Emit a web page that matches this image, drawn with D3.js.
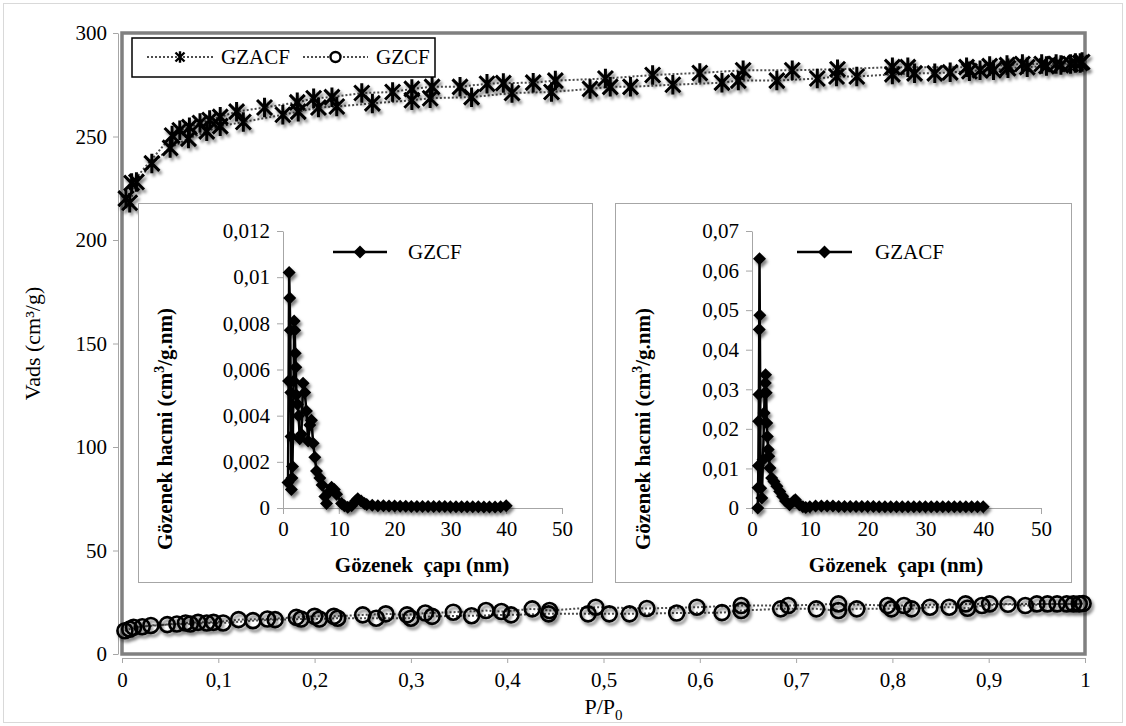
<!DOCTYPE html>
<html>
<head>
<meta charset="utf-8">
<script src="https://cdn.jsdelivr.net/npm/d3@7"></script>
<style>
  body { margin: 0; background: #fff; }
  text { font-family: "Liberation Serif", "Times New Roman", serif; fill: #000; }
</style>
</head>
<body>
<svg id="chart" width="1126" height="726"></svg>
<script>
// Isotherme principale : P/P0 -> Vads (cm3/g)
const xTicks = [0, 0.1, 0.2, 0.3, 0.4, 0.5, 0.6, 0.7, 0.8, 0.9, 1];
const xTickLabels = ["0", "0,1", "0,2", "0,3", "0,4", "0,5", "0,6", "0,7", "0,8", "0,9", "1"];
const yTicks = [0, 50, 100, 150, 200, 250, 300];
const yTickLabels = ["0", "50", "100", "150", "200", "250", "300"];

// GZACF : adsorption (branche basse) puis désorption (branche haute)
const gzacfAds = [
  [0.004, 220], [0.008, 218], [0.015, 228], [0.031, 237], [0.05, 244.5], [0.069, 249],
  [0.088, 252.5], [0.102, 255], [0.126, 257], [0.167, 260.5], [0.183, 262], [0.204, 264],
  [0.223, 264.5], [0.26, 266], [0.301, 267.5], [0.32, 268.5], [0.363, 269], [0.405, 271],
  [0.446, 271.5], [0.486, 273], [0.507, 274], [0.528, 274], [0.572, 275], [0.623, 276],
  [0.64, 277], [0.68, 277], [0.722, 278], [0.742, 279], [0.763, 279], [0.8, 280],
  [0.823, 280.5], [0.844, 280.5], [0.86, 281], [0.88, 281.5], [0.891, 282], [0.905, 282],
  [0.92, 283], [0.94, 283.5], [0.96, 284], [0.975, 284.5], [0.985, 285], [0.995, 285.5]
];
const gzacfDes = [
  [0.997, 286], [0.99, 285.5], [0.97, 285], [0.955, 285], [0.935, 285], [0.919, 284.5],
  [0.901, 284], [0.877, 283.5], [0.816, 283.5], [0.8, 283.5], [0.743, 282.5], [0.696, 282],
  [0.645, 282], [0.6, 280.7], [0.551, 279.7], [0.502, 278], [0.45, 277], [0.427, 276],
  [0.396, 275.8], [0.379, 275.5], [0.351, 274], [0.322, 274], [0.301, 273], [0.281, 271.5],
  [0.249, 271], [0.218, 269], [0.199, 268.5], [0.182, 266.5], [0.148, 264], [0.119, 262],
  [0.102, 259.5], [0.091, 258], [0.081, 256.5], [0.07, 254.5], [0.06, 253], [0.052, 250.5],
  [0.01, 227.5]
];

// GZCF : adsorption puis désorption
const gzcfAds = [
  [0.003, 11.2], [0.008, 12], [0.021, 13.2], [0.03, 13.8], [0.047, 14.2], [0.057, 14.5],
  [0.071, 14.5], [0.088, 15], [0.105, 15], [0.136, 16.1], [0.159, 16.6], [0.186, 16.9],
  [0.205, 16.9], [0.224, 17.3], [0.264, 17.3], [0.3, 17.3], [0.322, 18.2], [0.363, 18.5],
  [0.404, 18.9], [0.443, 19.4], [0.484, 19.4], [0.506, 19.4], [0.527, 19.4], [0.576, 19.8],
  [0.623, 20], [0.643, 21], [0.684, 21.8], [0.721, 21.8], [0.744, 21], [0.763, 21.8],
  [0.799, 21.8], [0.82, 21.8], [0.839, 22.6], [0.859, 22.6], [0.878, 22.1], [0.893, 23.4],
  [0.92, 24], [0.938, 23.4], [0.961, 24.2], [0.981, 24.2], [0.998, 24.4]
];
const gzcfDes = [
  [0.994, 24.2], [0.988, 24.2], [0.971, 24.2], [0.95, 24.2], [0.901, 24.2], [0.876, 24.2],
  [0.812, 23.4], [0.795, 23.4], [0.744, 24.2], [0.692, 23.4], [0.643, 23.4], [0.597, 22.6],
  [0.545, 22], [0.492, 22.6], [0.444, 21], [0.426, 21.8], [0.394, 20.5], [0.378, 21],
  [0.344, 20.2], [0.315, 19.8], [0.296, 18.9], [0.274, 19.4], [0.25, 18.9], [0.22, 18.2],
  [0.2, 18.2], [0.181, 17.7], [0.151, 16.9], [0.121, 16.6], [0.095, 15.3], [0.079, 15.3],
  [0.066, 15], [0.012, 12.9]
];

// Distribution des pores (encarts) : diamètre (nm) -> volume (cm3/g.nm)
const psdXTicks = [0, 10, 20, 30, 40, 50];
const psdXTickLabels = ["0", "10", "20", "30", "40", "50"];
const gzcfPsdYTicks = [0, 0.002, 0.004, 0.006, 0.008, 0.01, 0.012];
const gzcfPsdYTickLabels = ["0", "0,002", "0,004", "0,006", "0,008", "0,01", "0,012"];
const gzacfPsdYTicks = [0, 0.01, 0.02, 0.03, 0.04, 0.05, 0.06, 0.07];
const gzacfPsdYTickLabels = ["0", "0,01", "0,02", "0,03", "0,04", "0,05", "0,06", "0,07"];

const gzcfPsd = [
  [0.9, 0.0011], [1.0, 0.0055], [1.1, 0.0102], [1.2, 0.0091], [1.3, 0.0077], [1.4, 0.005],
  [1.45, 0.0031], [1.5, 0.0008], [1.6, 0.0013], [1.7, 0.0018], [1.9, 0.0055], [2.0, 0.0081],
  [2.1, 0.0077], [2.2, 0.0067], [2.3, 0.0061], [2.4, 0.0049], [2.6, 0.0045], [2.8, 0.004],
  [3.0, 0.003], [3.3, 0.0032], [3.6, 0.0054], [3.9, 0.005], [4.2, 0.0042], [4.5, 0.0029],
  [4.8, 0.0036], [5.1, 0.0038], [5.4, 0.0028], [5.7, 0.0022], [6.0, 0.0016], [6.6, 0.0013],
  [7.0, 0.001], [7.5, 0.0005], [7.8, 0.0002], [8.3, 0.0007], [8.7, 0.0009], [9.2, 0.0008],
  [9.6, 0.0006], [10.5, 0.0002], [11.0, 0.0001], [11.6, 0.00003], [12.3, 0.0001], [13.0, 0.0003],
  [13.4, 0.0004], [14.0, 0.0003], [14.6, 0.0002], [15, 0.00015], [16, 0.00012], [17, 0.0001],
  [18, 0.0001], [19, 0.00009], [20, 0.00009], [21, 0.00008], [22, 0.00008], [23, 0.00007],
  [24, 0.00007], [25, 0.00007], [26, 0.00006], [27, 0.00006], [28, 0.00006], [29, 0.00006],
  [30, 0.00005], [31, 0.00005], [32, 0.00005], [33, 0.00005], [34, 0.00005], [35, 0.00005],
  [36, 0.00004], [37, 0.00004], [38, 0.00004], [39, 0.00005], [40, 0.0001]
];
const gzacfPsd = [
  [1.0, 0.0], [1.05, 0.0051], [1.1, 0.0107], [1.15, 0.0219], [1.2, 0.0287], [1.25, 0.0451],
  [1.3, 0.063], [1.35, 0.0487], [1.5, 0.005], [1.7, 0.0025], [1.9, 0.0122], [2.1, 0.024],
  [2.2, 0.0291], [2.3, 0.0316], [2.35, 0.0337], [2.45, 0.0291], [2.55, 0.0215], [2.65, 0.0181],
  [2.8, 0.0148], [2.9, 0.0131], [3.1, 0.0101], [3.4, 0.0076], [3.8, 0.0067], [4.3, 0.0055],
  [4.8, 0.0042], [5.3, 0.003], [5.8, 0.0018], [6.5, 0.0008], [7.2, 0.0018], [7.5, 0.0021],
  [8.2, 0.0008], [8.8, 0.0003], [9.3, 0.0001], [10, 0.0003], [11, 0.0005], [12, 0.0005],
  [13, 0.0005], [14, 0.0005], [15, 0.0004], [16, 0.0004], [17, 0.0004], [18, 0.0004],
  [19, 0.0004], [20, 0.0004], [21, 0.0004], [22, 0.0003], [23, 0.0003], [24, 0.0003],
  [25, 0.0003], [26, 0.0003], [27, 0.0003], [28, 0.0003], [29, 0.0003], [30, 0.0003],
  [31, 0.0003], [32, 0.0003], [33, 0.0003], [34, 0.0003], [35, 0.0003], [36, 0.0003],
  [37, 0.0003], [38, 0.0003], [39, 0.0003], [40, 0.0003]
];

const svg = d3.select("#chart");

// ombre portée des marqueurs (style Excel)
const defs = svg.append("defs");
defs.append("filter").attr("id", "shadow")
  .attr("x", "-50%").attr("y", "-50%").attr("width", "200%").attr("height", "200%")
  .append("feDropShadow")
  .attr("dx", 2).attr("dy", 3).attr("stdDeviation", 1.8)
  .attr("flood-color", "#000").attr("flood-opacity", 0.5);

// cadre extérieur
svg.append("rect")
  .attr("x", 3.5).attr("y", 3.5).attr("width", 1119).attr("height", 719)
  .attr("fill", "#fff").attr("stroke", "#d9d9d9");

const x = d3.scaleLinear().domain([0, 1]).range([122, 1085]);
const y = d3.scaleLinear().domain([0, 300]).range([654, 33]);

function starPath(r) {
  return `M${-r},${-r}L${r},${r}M${-r},${r}L${r},${-r}M0,${-r * 1.3}L0,${r * 1.3}`;
}
function diamondPath(r) {
  return `M0,${-r}L${r},0L0,${r}L${-r},0Z`;
}

function styleAxis(g) {
  g.attr("font-family", null).attr("font-size", null);
  g.select(".domain").attr("stroke", "#a6a6a6");
  g.selectAll(".tick line").attr("stroke", "#a6a6a6");
  g.selectAll(".tick text").style("font-size", "21px")
    .style("font-family", '"Liberation Serif", serif');
}

// axes principaux
svg.append("g")
  .attr("transform", `translate(${x(0) - 4},0)`)
  .call(d3.axisLeft(y).tickValues(yTicks).tickFormat((d, i) => yTickLabels[i])
    .tickSize(5).tickPadding(6).tickSizeOuter(0))
  .call(styleAxis);

svg.append("g")
  .attr("transform", `translate(0,${y(0) + 4})`)
  .call(d3.axisBottom(x).tickValues(xTicks).tickFormat((d, i) => xTickLabels[i])
    .tickSize(5).tickPadding(9).tickSizeOuter(0))
  .call(styleAxis);

// cadre de la zone de tracé
svg.append("rect")
  .attr("x", x(0)).attr("y", y(300))
  .attr("width", x(1) - x(0)).attr("height", y(0) - y(300))
  .attr("fill", "none").attr("stroke", "#808080").attr("stroke-width", 3.5);

// titres des axes
svg.append("text")
  .attr("transform", `translate(40,${(y(0) + y(300)) / 2}) rotate(-90)`)
  .attr("text-anchor", "middle").style("font-size", "22px")
  .text("Vads (cm³/g)");

const xTitle = svg.append("text")
  .attr("x", (x(0) + x(1)) / 2).attr("y", 714)
  .attr("text-anchor", "middle").style("font-size", "22px");
xTitle.append("tspan").text("P/P");
xTitle.append("tspan").attr("dy", 6).style("font-size", "15px").text("0");

// courbes principales
const line = d3.line().x(d => x(d[0])).y(d => y(d[1]));

function drawSeries(data, kind) {
  svg.append("path")
    .datum(data)
    .attr("d", line)
    .attr("fill", "none")
    .attr("stroke", "#4d4d4d")
    .attr("stroke-width", 2)
    .attr("stroke-dasharray", "2,2");
  const marks = svg.append("g").attr("filter", "url(#shadow)");
  if (kind === "star") {
    marks.selectAll("path").data(data).enter().append("path")
      .attr("transform", d => `translate(${x(d[0])},${y(d[1])})`)
      .attr("d", starPath(7.5))
      .attr("fill", "none").attr("stroke", "#000").attr("stroke-width", 3);
  } else {
    marks.selectAll("circle").data(data).enter().append("circle")
      .attr("cx", d => x(d[0])).attr("cy", d => y(d[1])).attr("r", 7.5)
      .attr("fill", "none").attr("stroke", "#000").attr("stroke-width", 2.6);
  }
}
drawSeries(gzcfAds.concat(gzcfDes), "circle");
drawSeries(gzacfAds.concat(gzacfDes), "star");

// légende principale
const leg = svg.append("g");
leg.append("rect")
  .attr("x", 132).attr("y", 38).attr("width", 303).attr("height", 39)
  .attr("fill", "#fff").attr("stroke", "#000").attr("stroke-width", 1.5);
[
  { x0: 147, x1: 213, label: "GZACF", kind: "star" },
  { x0: 303, x1: 368, label: "GZCF", kind: "circle" }
].forEach(item => {
  leg.append("line")
    .attr("x1", item.x0).attr("x2", item.x1).attr("y1", 57).attr("y2", 57)
    .attr("stroke", "#4d4d4d").attr("stroke-width", 2).attr("stroke-dasharray", "2,2");
  const cx = (item.x0 + item.x1) / 2;
  if (item.kind === "star") {
    leg.append("path").attr("transform", `translate(${cx},57)`)
      .attr("d", starPath(4.5)).attr("stroke", "#000").attr("stroke-width", 2.4);
  } else {
    leg.append("circle").attr("cx", cx).attr("cy", 57).attr("r", 5)
      .attr("fill", "#fff").attr("stroke", "#000").attr("stroke-width", 2.4);
  }
  leg.append("text").attr("x", item.x1 + 8).attr("y", 64)
    .style("font-size", "21px").text(item.label);
});

// encarts : distribution de taille de pores
function drawInset(opt) {
  const g = svg.append("g");
  g.append("rect")
    .attr("x", opt.box[0] + 0.5).attr("y", opt.box[1] + 0.5)
    .attr("width", opt.box[2]).attr("height", opt.box[3])
    .attr("fill", "#fff").attr("stroke", "#a6a6a6");

  const ix = d3.scaleLinear().domain([0, 50]).range(opt.xRange);
  const iy = d3.scaleLinear().domain([0, opt.yMax]).range([508, 231]);

  g.append("g")
    .attr("transform", `translate(${opt.xRange[0]},0)`)
    .call(d3.axisLeft(iy).tickValues(opt.yTicks).tickFormat((d, i) => opt.yLabels[i])
      .tickSize(6).tickPadding(7).tickSizeOuter(0))
    .call(styleAxis);
  g.append("g")
    .attr("transform", "translate(0,508)")
    .call(d3.axisBottom(ix).tickValues(psdXTicks).tickFormat((d, i) => psdXTickLabels[i])
      .tickSize(6).tickPadding(7).tickSizeOuter(0))
    .call(styleAxis);

  g.append("path")
    .datum(opt.data)
    .attr("d", d3.line().x(d => ix(d[0])).y(d => iy(d[1])))
    .attr("fill", "none").attr("stroke", "#000").attr("stroke-width", 2.5)
    .attr("stroke-linejoin", "round");
  g.append("g").attr("filter", "url(#shadow)")
    .selectAll("path").data(opt.data).enter().append("path")
    .attr("transform", d => `translate(${ix(d[0])},${iy(d[1])})`)
    .attr("d", diamondPath(6.5)).attr("fill", "#000");

  // titres
  const yt = g.append("text")
    .attr("transform", `translate(${opt.yTitleX},429) rotate(-90)`)
    .attr("text-anchor", "middle")
    .style("font-size", "21px").style("font-weight", "bold");
  yt.append("tspan").text("Gözenek hacmi (cm");
  yt.append("tspan").attr("dy", -8).style("font-size", "14px").text("3");
  yt.append("tspan").attr("dy", 8).text("/g.nm)");

  g.append("text")
    .attr("x", opt.xTitleX).attr("y", 572)
    .attr("text-anchor", "middle")
    .style("font-size", "21px").style("font-weight", "bold")
    .style("white-space", "pre")
    .text("Gözenek  çapı (nm)");

  // légende
  g.append("line")
    .attr("x1", opt.leg[0]).attr("x2", opt.leg[1]).attr("y1", 252).attr("y2", 252)
    .attr("stroke", "#000").attr("stroke-width", 2.5);
  g.append("path")
    .attr("transform", `translate(${(opt.leg[0] + opt.leg[1]) / 2},252)`)
    .attr("d", diamondPath(6.5)).attr("fill", "#000");
  g.append("text")
    .attr("x", opt.leg[2]).attr("y", 259)
    .style("font-size", "21px").text(opt.label);
}

drawInset({
  box: [138, 203, 454, 379], xRange: [283, 562], yMax: 0.012,
  yTicks: gzcfPsdYTicks, yLabels: gzcfPsdYTickLabels, data: gzcfPsd,
  yTitleX: 172, xTitleX: 422, leg: [333, 387, 408], label: "GZCF"
});
drawInset({
  box: [615, 203, 456, 379], xRange: [752, 1041], yMax: 0.07,
  yTicks: gzacfPsdYTicks, yLabels: gzacfPsdYTickLabels, data: gzacfPsd,
  yTitleX: 650, xTitleX: 896, leg: [797, 852, 875], label: "GZACF"
});
</script>
</body>
</html>
